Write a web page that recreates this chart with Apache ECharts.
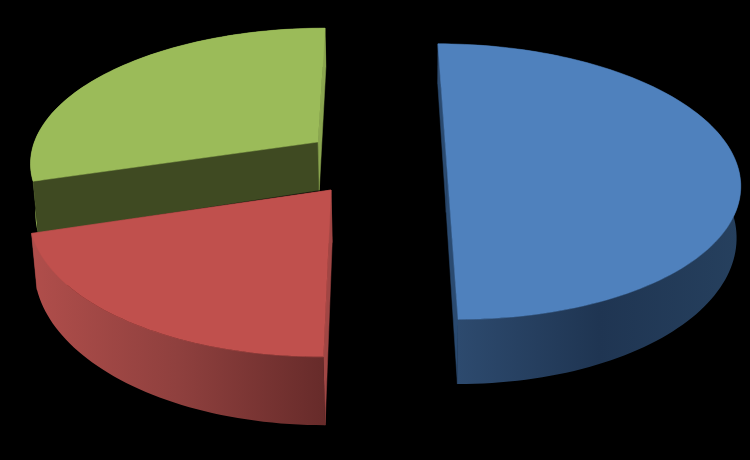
<!DOCTYPE html>
<html>
<head>
<meta charset="utf-8">
<style>html,body{margin:0;padding:0;background:#000}#c{width:750px;height:460px}</style>
<script src="https://cdn.jsdelivr.net/npm/echarts@6/dist/echarts.min.js"></script>
</head>
<body>
<div id="c"></div>
<script>
var categories = ['Slice 1', 'Slice 2', 'Slice 3'];
var values = [50, 20.3, 29.7];
var topColors = ['#4f81bd', '#c0504d', '#9bbb59'];
var startWallColors = ['#2a4a70', '#a04644', '#3f4a22'];
var endWallColors = ['#2a4a70', '#a04644', '#8aa54f'];
var outerStops = [
  [[0, '#2d4a6e'], [0.5, '#1f3552'], [1, '#26405e']],
  [[0, '#b04e4b'], [0.5, '#8f403e'], [1, '#672b2a']],
  [[0, '#9bbb59'], [1, '#9bbb59']]
];
var outerRange = [[458, 740], [32, 324], [30, 325]];
var outerFirst = [false, false, true];
var offsetX = [72.6, -45, -60.9];
var depth = [1.0285, 1, 1.0506];

var RAD = Math.PI / 180, A = 298, KR = 0.1435, VX = 376, VY = -806, C = 996;
var H = 52.5, P = 1.7, NX = 420, Q = 4000;
var total = values.reduce(function (a, b) { return a + b; }, 0);

function project(i, r, t) {
  var w = depth[i] + KR * r * Math.cos(t);
  return { x: VX + (offsetX[i] + A * r * Math.sin(t)) / w, y: VY + C / w, w: w };
}
function pt(p) { return [p.x, p.y]; }
function down(p) {
  var h = H * Math.pow(1 / p.w, P);
  return [p.x + (NX - p.x) * h / Q, p.y + h];
}
function poly(points, fill, stroke) {
  return { type: 'polygon', shape: { points: points }, style: { fill: fill, stroke: stroke || fill, lineWidth: 0.5 } };
}
function angles(i) {
  var s = 0;
  for (var k = 0; k < i; k++) s += values[k];
  return [s / total * 360 * RAD, (s + values[i]) / total * 360 * RAD];
}
function renderSlice(i, params, api) {
  var a = angles(i), n = Math.max(8, Math.round((a[1] - a[0]) / RAD / 1.5)), rim = [];
  for (var k = 0; k <= n; k++) rim.push(project(i, 1, a[0] + (a[1] - a[0]) * k / n));
  var apex = project(i, 0, 0);
  var top = [pt(apex)].concat(rim.map(pt));
  var first = rim[0], last = rim[n];
  var outer = rim.map(pt).concat(rim.slice().reverse().map(down));
  var grad = new echarts.graphic.LinearGradient(outerRange[i][0], 0, outerRange[i][1], 0,
    outerStops[i].map(function (s) { return { offset: s[0], color: s[1] }; }), true);
  var outerEl = poly(outer, grad, 'rgba(0,0,0,0)');
  var walls = [
    poly([pt(apex), pt(first), down(first), down(apex)], startWallColors[i]),
    poly([pt(apex), pt(last), down(last), down(apex)], endWallColors[i])
  ];
  var children = outerFirst[i] ? [outerEl].concat(walls) : walls.concat([outerEl]);
  children.push(poly(top, topColors[i]));
  return { type: 'group', children: children };
}
var order = [2, 1, 0];
var chart = echarts.init(document.getElementById('c'), null, { renderer: 'canvas' });
chart.setOption({
  backgroundColor: '#000',
  animation: false,
  series: order.map(function (i, z) {
    return {
      type: 'custom',
      name: categories[i],
      coordinateSystem: 'none',
      z: z + 1,
      silent: true,
      data: [values[i]],
      renderItem: function (p, api) { return renderSlice(i, p, api); }
    };
  })
});
</script>
</body>
</html>
